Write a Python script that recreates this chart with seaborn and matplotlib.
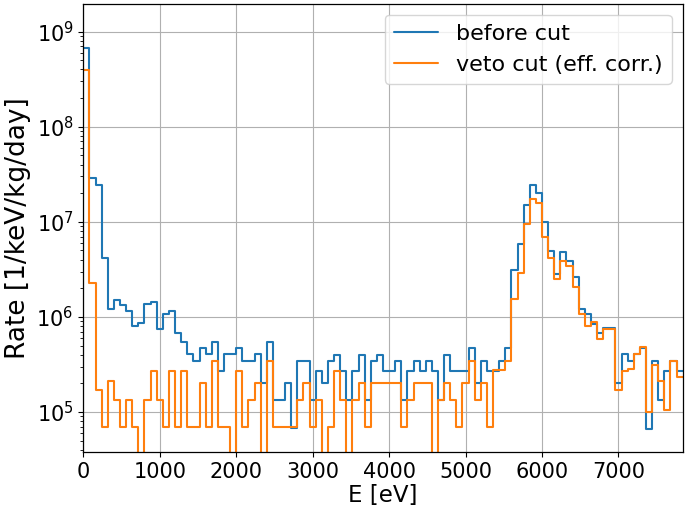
"""
Energy spectrum before and after the veto cut (step histograms, log rate).
"""

import numpy as np
import pandas as pd
import matplotlib
matplotlib.use("Agg")
import matplotlib.pyplot as plt
import seaborn as sns

# Histogram binning (eV)
bin_width_ev = 80
x_max_ev = 7840

# Rate per bin [1/keV/kg/day]
rate_before = [
    6.8e8, 2.9e7, 2.45e7, 4.2e6, 1.2e6, 1.5e6, 1.35e6, 1.15e6, 8.0e5, 8.6e5,
    1.36e6, 1.42e6, 7.4e5, 1.07e6, 1.15e6, 6.8e5, 5.4e5, 4.05e5, 3.4e5, 4.7e5,
    4.05e5, 5.4e5, 2.7e5, 4.05e5, 4.05e5, 4.7e5, 3.4e5, 3.4e5, 4.05e5, 2.0e5,
    5.4e5, 1.35e5, 1.35e5, 2.0e5, 6.8e4, 3.4e5, 3.4e5, 1.35e5, 2.7e5, 2.0e5,
    3.4e5, 4.0e5, 2.7e5, 1.35e5, 2.7e5, 4.0e5, 1.35e5, 3.4e5, 4.0e5, 2.7e5,
    2.7e5, 3.4e5, 1.35e5, 2.7e5, 3.4e5, 2.7e5, 3.4e5, 2.7e5, 1.35e5, 4.0e5,
    2.7e5, 2.7e5, 2.7e5, 4.7e5, 2.0e5, 3.4e5, 2.7e5, 2.7e5, 3.4e5, 4.7e5,
    3.1e6, 5.8e6, 1.5e7, 2.45e7, 2.0e7, 1.0e7, 4.9e6, 2.85e6, 4.8e6, 3.9e6,
    2.65e6, 1.2e6, 1.07e6, 8.4e5, 6.7e5, 7.7e5, 7.7e5, 2.0e5, 4.05e5, 3.4e5,
    4.05e5, 4.75e5, 6.7e4, 3.4e5, 1.35e5, 2.7e5, 3.4e5, 2.7e5,
]

rate_veto = [
    3.95e8, 2.25e6, 1.7e5, 7.0e4, 2.1e5, 1.35e5, 7.0e4, 1.35e5, 7.0e4, 0,
    1.35e5, 2.7e5, 1.35e5, 7.0e4, 2.7e5, 7.0e4, 2.7e5, 7.0e4, 7.0e4, 2.0e5,
    7.0e4, 3.4e5, 7.0e4, 7.0e4, 0, 2.7e5, 7.0e4, 1.35e5, 2.0e5, 0,
    3.4e5, 7.0e4, 7.0e4, 7.0e4, 7.0e4, 1.35e5, 2.0e5, 7.0e4, 1.35e5, 0,
    7.0e4, 2.7e5, 1.35e5, 0, 1.35e5, 2.0e5, 7.0e4, 2.0e5, 2.0e5, 2.0e5,
    2.0e5, 2.0e5, 7.0e4, 1.35e5, 2.0e5, 2.0e5, 2.0e5, 0, 1.35e5, 2.0e5,
    1.35e5, 7.0e4, 2.0e5, 3.4e5, 1.35e5, 2.0e5, 7.0e4, 2.75e5, 2.75e5, 3.4e5,
    1.55e6, 2.9e6, 9.4e6, 1.72e7, 1.56e7, 7.0e6, 4.2e6, 2.5e6, 3.9e6, 3.4e6,
    2.05e6, 1.07e6, 8.0e5, 8.8e5, 5.8e5, 7.5e5, 7.5e5, 1.72e5, 2.7e5, 2.8e5,
    4.05e5, 4.8e5, 1.0e5, 3.15e5, 2.1e5, 1.06e5, 3.4e5, 2.35e5,
]

labels = ["before cut", "veto cut (eff. corr.)"]
colors = ["#1f77b4", "#ff7f0e"]

x_ticks = [0, 1000, 2000, 3000, 4000, 5000, 6000, 7000]
y_limits = (3.8e4, 1.96e9)

# Style: plain matplotlib look with a grid
sns.set_theme(style="ticks", rc={
    "axes.grid": True,
    "grid.color": "#b0b0b0",
    "grid.linewidth": 0.8,
    "axes.edgecolor": "black",
    "axes.linewidth": 0.9,
    "axes.labelcolor": "black",
    "text.color": "black",
    "xtick.color": "black",
    "ytick.color": "black",
    "xtick.direction": "out",
    "ytick.direction": "out",
})
plt.rcParams["font.family"] = ["DejaVu Sans"]


def main():
    n_bins = len(rate_before)
    edges = np.arange(n_bins + 1) * bin_width_ev
    centers = edges[:-1] + bin_width_ev / 2

    fig = plt.figure(figsize=(6.85, 5.13), dpi=100)
    ax = fig.add_axes([0.1216, 0.119, 0.875, 0.8735])

    for rates, label, color in zip([rate_before, rate_veto], labels, colors):
        df = pd.DataFrame({"energy": centers, "rate": rates})
        # bins as a plain list: seaborn compares bins == "auto"
        sns.histplot(
            data=df, x="energy", weights="rate", bins=edges.tolist(),
            element="step", fill=False, color=color,
            linewidth=1.5, label=label, ax=ax,
        )

    ax.set_yscale("log")
    ax.set_xlim(0, x_max_ev)
    ax.set_ylim(*y_limits)
    ax.set_xticks(x_ticks)
    ax.tick_params(axis="both", which="major", labelsize=15, length=3.5, width=0.8)
    ax.tick_params(axis="y", which="minor", length=2, width=0.6, left=True)
    ax.grid(True, which="major", color="#b0b0b0", linewidth=0.8)
    ax.grid(False, which="minor")

    ax.set_xlabel("E [eV]", fontsize=16.5, labelpad=2)
    ax.set_ylabel("Rate [1/keV/kg/day]", fontsize=19, labelpad=4)
    ax.legend(loc="upper right", fontsize=16)

    fig.savefig("out.png", dpi=100)
    plt.close(fig)


if __name__ == "__main__":
    main()
